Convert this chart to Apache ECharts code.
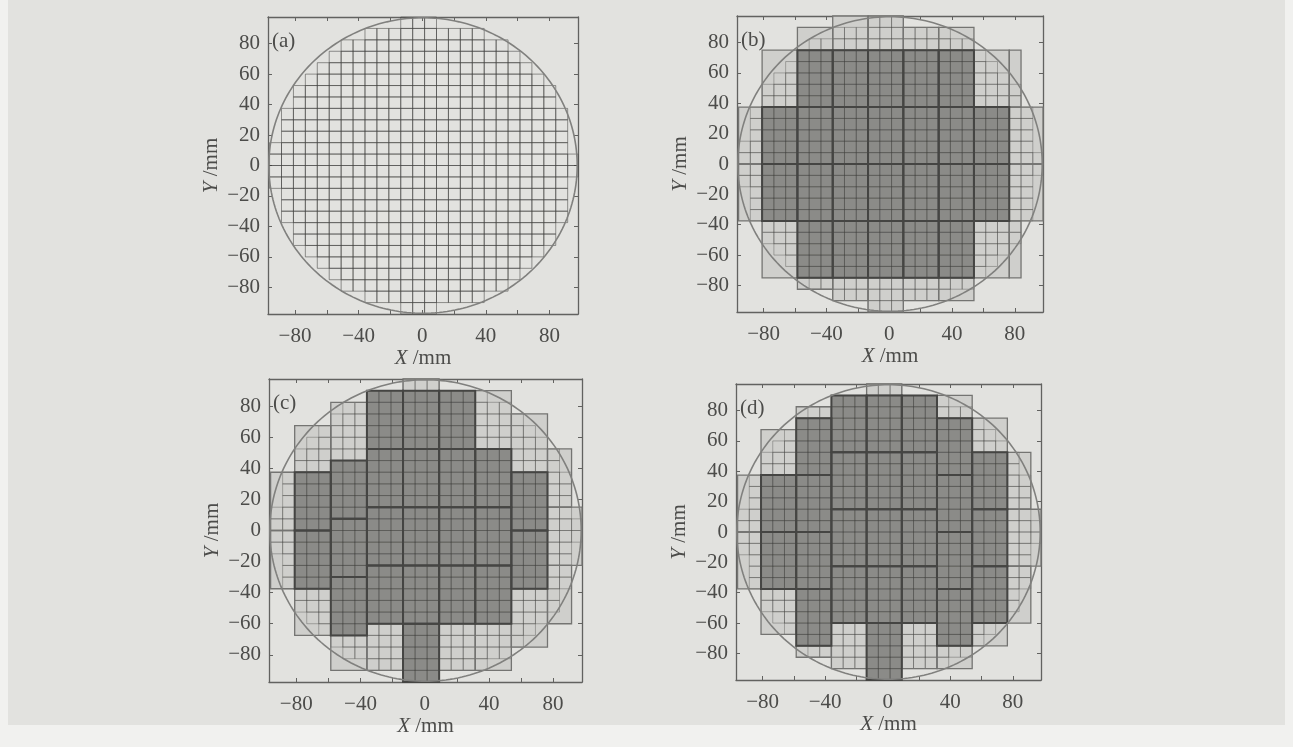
<!DOCTYPE html>
<html>
<head>
<meta charset="utf-8">
<title>wafer shot map</title>
<script src="https://cdn.jsdelivr.net/npm/echarts@6/dist/echarts.min.js"></script>
<style>
  html, body { margin: 0; padding: 0; background: #f1f1ef; }
  #paper { position: absolute; left: 8px; top: 0; width: 1277px; height: 725px; background: #e2e2df; }
  #chart { position: absolute; left: 0; top: 0; width: 1293px; height: 747px; }
</style>
</head>
<body>
<div id="paper"></div>
<div id="chart"></div>
<script>
// wafer outline: centre x, centre y, radius (mm)
const wafer = [[0.5, 0, 97]]

const xTicks = [-80, -60, -40, -20, 0, 20, 40, 60, 80]
const xLabels = [-80, -40, 0, 40, 80]
const yTicks = [-80, -60, -40, -20, 0, 20, 40, 60, 80]
const panelNames = ['(a)', '(b)', '(c)', '(d)']

// die rows (bottom edge) with the left / right edge of the dies in that row, mm
const dieRowBottom = [-97.5, -90, -82.5, -75, -67.5, -60, -52.5, -45, -37.5, -30, -22.5, -15, -7.5,
  0, 7.5, 15, 22.5, 30, 37.5, 45, 52.5, 60, 67.5, 75, 82.5, 90]
const dieRowLeft = [-13.5, -36, -51, -58.5, -66, -73.5, -81, -81, -88.5, -88.5, -88.5, -96, -96,
  -96, -96, -88.5, -88.5, -88.5, -81, -81, -73.5, -66, -58.5, -51, -36, -13.5]
const dieRowRight = [9, 39, 54, 61.5, 69, 76.5, 84, 84, 91.5, 91.5, 91.5, 91.5, 99,
  99, 91.5, 91.5, 91.5, 91.5, 84, 84, 76.5, 69, 61.5, 54, 39, 9]

// exposure fields: x0, y0, x1, y1, full field (1) or edge field (0)
const fieldsB = [
  [-96, 0, -81, 37.5, 0], [-96, -37.5, -81, 0, 0],
  [-81, 37.5, -58.5, 75, 0], [-81, 0, -58.5, 37.5, 1], [-81, -37.5, -58.5, 0, 1], [-81, -75, -58.5, -37.5, 0],
  [-58.5, 75, -36, 90, 0], [-58.5, 37.5, -36, 75, 1], [-58.5, 0, -36, 37.5, 1], [-58.5, -37.5, -36, 0, 1], [-58.5, -75, -36, -37.5, 1], [-58.5, -82.5, -36, -75, 0],
  [-36, 75, -13.5, 97.5, 0], [-36, 37.5, -13.5, 75, 1], [-36, 0, -13.5, 37.5, 1], [-36, -37.5, -13.5, 0, 1], [-36, -75, -13.5, -37.5, 1], [-36, -90, -13.5, -75, 0],
  [-13.5, 75, 9, 97.5, 0], [-13.5, 37.5, 9, 75, 1], [-13.5, 0, 9, 37.5, 1], [-13.5, -37.5, 9, 0, 1], [-13.5, -75, 9, -37.5, 1], [-13.5, -97.5, 9, -75, 0],
  [9, 75, 31.5, 90, 0], [9, 37.5, 31.5, 75, 1], [9, 0, 31.5, 37.5, 1], [9, -37.5, 31.5, 0, 1], [9, -75, 31.5, -37.5, 1], [9, -90, 31.5, -75, 0],
  [31.5, 75, 54, 90, 0], [31.5, 37.5, 54, 75, 1], [31.5, 0, 54, 37.5, 1], [31.5, -37.5, 54, 0, 1], [31.5, -75, 54, -37.5, 1], [31.5, -90, 54, -75, 0],
  [54, 37.5, 76.5, 75, 0], [54, 0, 76.5, 37.5, 1], [54, -37.5, 76.5, 0, 1], [54, -75, 76.5, -37.5, 0],
  [76.5, 37.5, 84, 75, 0], [76.5, 0, 99, 37.5, 0], [76.5, -37.5, 99, 0, 0], [76.5, -75, 84, -37.5, 0]
]
const fieldsC = [
  [-96, 0, -81, 37.5, 0], [-96, -37.5, -81, 0, 0],
  [-81, 37.5, -58.5, 67.5, 0], [-81, 0, -58.5, 37.5, 1], [-81, -37.5, -58.5, 0, 1], [-81, -67.5, -58.5, -37.5, 0],
  [-58.5, 45, -36, 82.5, 0], [-58.5, 7.5, -36, 45, 1], [-58.5, -30, -36, 7.5, 1], [-58.5, -67.5, -36, -30, 1], [-58.5, -90, -36, -67.5, 0],
  [-36, 52.5, -13.5, 90, 1], [-36, 15, -13.5, 52.5, 1], [-36, -22.5, -13.5, 15, 1], [-36, -60, -13.5, -22.5, 1], [-36, -90, -13.5, -60, 0],
  [-13.5, 90, 9, 97.5, 0], [-13.5, 52.5, 9, 90, 1], [-13.5, 15, 9, 52.5, 1], [-13.5, -22.5, 9, 15, 1], [-13.5, -60, 9, -22.5, 1], [-13.5, -97.5, 9, -60, 1],
  [9, 52.5, 31.5, 90, 1], [9, 15, 31.5, 52.5, 1], [9, -22.5, 31.5, 15, 1], [9, -60, 31.5, -22.5, 1], [9, -90, 31.5, -60, 0],
  [31.5, 52.5, 54, 90, 0], [31.5, 15, 54, 52.5, 1], [31.5, -22.5, 54, 15, 1], [31.5, -60, 54, -22.5, 1], [31.5, -90, 54, -60, 0],
  [54, 37.5, 76.5, 75, 0], [54, 0, 76.5, 37.5, 1], [54, -37.5, 76.5, 0, 1], [54, -75, 76.5, -37.5, 0],
  [76.5, 15, 91.5, 52.5, 0], [76.5, -22.5, 99, 15, 0], [76.5, -60, 91.5, -22.5, 0]
]
const fieldsD = [
  [-96, 0, -81, 37.5, 0], [-96, -37.5, -81, 0, 0],
  [-81, 37.5, -58.5, 67.5, 0], [-81, 0, -58.5, 37.5, 1], [-81, -37.5, -58.5, 0, 1], [-81, -67.5, -58.5, -37.5, 0],
  [-58.5, 75, -36, 82.5, 0], [-58.5, 37.5, -36, 75, 1], [-58.5, 0, -36, 37.5, 1], [-58.5, -37.5, -36, 0, 1], [-58.5, -75, -36, -37.5, 1], [-58.5, -82.5, -36, -75, 0],
  [-36, 52.5, -13.5, 90, 1], [-36, 15, -13.5, 52.5, 1], [-36, -22.5, -13.5, 15, 1], [-36, -60, -13.5, -22.5, 1], [-36, -90, -13.5, -60, 0],
  [-13.5, 90, 9, 97.5, 0], [-13.5, 52.5, 9, 90, 1], [-13.5, 15, 9, 52.5, 1], [-13.5, -22.5, 9, 15, 1], [-13.5, -60, 9, -22.5, 1], [-13.5, -97.5, 9, -60, 1],
  [9, 52.5, 31.5, 90, 1], [9, 15, 31.5, 52.5, 1], [9, -22.5, 31.5, 15, 1], [9, -60, 31.5, -22.5, 1], [9, -90, 31.5, -60, 0],
  [31.5, 75, 54, 90, 0], [31.5, 37.5, 54, 75, 1], [31.5, 0, 54, 37.5, 1], [31.5, -37.5, 54, 0, 1], [31.5, -75, 54, -37.5, 1], [31.5, -90, 54, -75, 0],
  [54, 52.5, 76.5, 75, 0], [54, 15, 76.5, 52.5, 1], [54, -22.5, 76.5, 15, 1], [54, -60, 76.5, -22.5, 1], [54, -75, 76.5, -60, 0],
  [76.5, 15, 91.5, 52.5, 0], [76.5, -22.5, 99, 15, 0], [76.5, -60, 91.5, -22.5, 0]
]

const DIE = 7.5 // die pitch, mm
const FONT = '"Liberation Serif", "DejaVu Serif", serif'
const TEXT = '#4c4c4a'
const BOX = '#626260'

const grids = [
  { left: 268, top: 17, width: 310, height: 297 },
  { left: 737, top: 16, width: 306, height: 296 },
  { left: 269, top: 379, width: 313, height: 303 },
  { left: 736, top: 384, width: 305, height: 296 }
]

const chart = echarts.init(document.getElementById('chart'))

function fmt(v) {
  return v < 0 ? '\u2212' + Math.abs(v) : String(v)
}

function clipBox(params, api, x0, y0, x1, y1) {
  const p0 = api.coord([x0, y1])
  const p1 = api.coord([x1, y0])
  const cs = params.coordSys
  return echarts.graphic.clipRectByRect(
    { x: p0[0], y: p0[1], width: p1[0] - p0[0], height: p1[1] - p0[1] },
    { x: cs.x, y: cs.y, width: cs.width, height: cs.height }
  )
}

function renderFieldFill(params, api) {
  const shape = clipBox(params, api, api.value(0), api.value(1), api.value(2), api.value(3))
  if (!shape) return
  return {
    type: 'rect',
    shape: shape,
    style: { fill: api.value(4) ? '#8b8b88' : '#cfcfcc', stroke: null }
  }
}

function renderFieldEdge(params, api) {
  const shape = clipBox(params, api, api.value(0), api.value(1), api.value(2), api.value(3))
  if (!shape) return
  const full = api.value(4)
  return {
    type: 'rect',
    shape: shape,
    z2: full ? 2 : 1,
    style: { fill: null, stroke: full ? '#454543' : '#747472', lineWidth: full ? 2 : 1.3 }
  }
}

function dieRenderer(color) {
  return function(params, api) {
    const b = api.value(0)
    const l = api.value(1)
    const r = api.value(2)
    const children = []
    for (let x = l; x < r - 0.01; x += DIE) {
      const shape = clipBox(params, api, x, b, x + DIE, b + DIE)
      if (shape) {
        children.push({ type: 'rect', shape: shape, style: { fill: null, stroke: color, lineWidth: 1 }})
      }
    }
    return { type: 'group', children: children }
  }
}

function renderWafer(params, api) {
  const cx = api.value(0)
  const cy = api.value(1)
  const r = api.value(2)
  const pts = []
  for (let i = 0; i <= 240; i++) {
    const a = i / 240 * Math.PI * 2
    pts.push(api.coord([cx + r * Math.cos(a), cy + r * Math.sin(a)]))
  }
  return {
    type: 'polyline',
    shape: { points: pts },
    style: { fill: null, stroke: '#80807e', lineWidth: 1.6 }
  }
}

const dieRows = dieRowBottom.map((b, i) => [b, dieRowLeft[i], dieRowRight[i]])
const fieldSets = [null, fieldsB, fieldsC, fieldsD]

const xAxes = []
const yAxes = []
const series = []
const labels = []

grids.forEach((g, gi) => {
  const tick = { show: true, inside: true, length: 4, lineStyle: { color: BOX, width: 1 }}
  const line = { show: true, onZero: false, lineStyle: { color: BOX, width: 1.3 }}
  const labelStyle = { color: TEXT, fontFamily: FONT, fontSize: 21, formatter: fmt }
  const nameStyle = {
    color: TEXT, fontFamily: FONT, fontSize: 21,
    rich: { i: { fontStyle: 'italic', color: TEXT, fontFamily: FONT, fontSize: 21 }}
  }
  xAxes.push({
    type: 'value', gridIndex: gi, position: 'bottom', min: -97, max: 98,
    axisLine: line, splitLine: { show: false },
    axisTick: Object.assign({ customValues: xTicks }, tick),
    axisLabel: Object.assign({ customValues: xLabels, margin: 12 }, labelStyle),
    name: '{i|X} /mm', nameLocation: 'middle', nameGap: 33, nameTextStyle: nameStyle
  })
  xAxes.push({
    type: 'value', gridIndex: gi, position: 'top', min: -97, max: 98,
    axisLine: line, splitLine: { show: false },
    axisTick: Object.assign({ customValues: xTicks }, tick),
    axisLabel: { show: false }
  })
  yAxes.push({
    type: 'value', gridIndex: gi, position: 'left', min: -97.5, max: 97.5,
    axisLine: line, splitLine: { show: false },
    axisTick: Object.assign({ customValues: yTicks }, tick),
    axisLabel: Object.assign({ customValues: yTicks, margin: 8 }, labelStyle),
    name: '{i|Y} /mm', nameLocation: 'middle', nameGap: 46, nameTextStyle: nameStyle
  })
  yAxes.push({
    type: 'value', gridIndex: gi, position: 'right', min: -97.5, max: 97.5,
    axisLine: line, splitLine: { show: false },
    axisTick: Object.assign({ customValues: yTicks }, tick),
    axisLabel: { show: false }
  })

  const ax = { xAxisIndex: gi * 2, yAxisIndex: gi * 2 }
  const fields = fieldSets[gi]
  if (fields) {
    series.push(Object.assign({
      type: 'custom', renderItem: renderFieldFill, data: fields,
      encode: { x: [0, 2], y: [1, 3] }, silent: true, z: 1
    }, ax))
  }
  series.push(Object.assign({
    type: 'custom', renderItem: dieRenderer(fields ? 'rgba(60,60,58,0.35)' : 'rgba(60,60,58,0.52)'),
    data: dieRows, encode: { x: 1, y: 0 }, silent: true, z: 2
  }, ax))
  if (fields) {
    series.push(Object.assign({
      type: 'custom', renderItem: renderFieldEdge, data: fields,
      encode: { x: [0, 2], y: [1, 3] }, silent: true, z: 3
    }, ax))
  }
  series.push(Object.assign({
    type: 'custom', renderItem: renderWafer, data: wafer,
    encode: { x: 0, y: 1 }, silent: true, z: 4
  }, ax))

  labels.push({
    type: 'text', left: g.left + 4, top: g.top + 14, z: 10,
    style: { text: panelNames[gi], font: '21px ' + FONT, fill: TEXT }
  })
})

chart.setOption({
  animation: false,
  grid: grids.map(g => Object.assign({ containLabel: false }, g)),
  xAxis: xAxes,
  yAxis: yAxes,
  series: series,
  graphic: labels
})
</script>
</body>
</html>
